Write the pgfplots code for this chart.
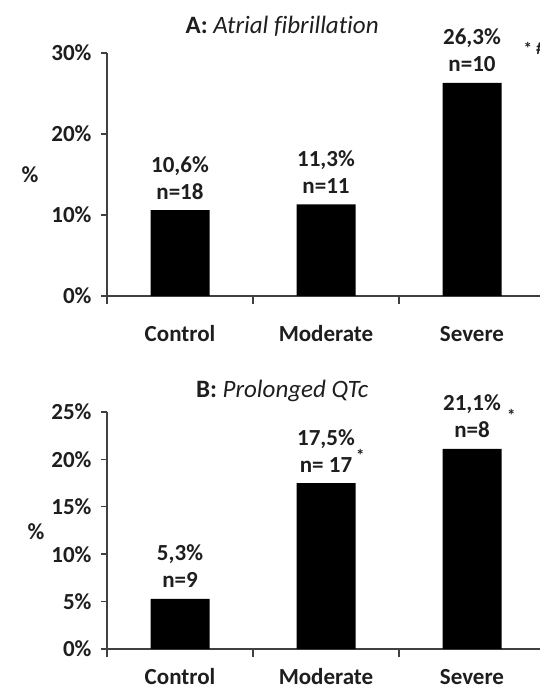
\documentclass[border=0pt]{standalone}
\usepackage{pgfplots}
\pgfplotsset{compat=1.18}
\usepackage{fontspec}
\setmainfont[Ligatures=NoCommon]{Carlito}
\definecolor{axgray}{HTML}{404040}
\definecolor{txt}{HTML}{1E1E1E}
\newcommand{\fs}{\fontsize{23}{27}\selectfont}
\newcommand{\lab}[4]{%
  \node[font=\fs\bfseries, text=txt, anchor=base] at ([yshift=11pt]axis cs:#1,#2) {#4};
  \node[font=\fs\bfseries, text=txt, anchor=base] at ([yshift=38pt]axis cs:#1,#2) {#3};}
\begin{document}
\begin{tikzpicture}
\useasboundingbox (0pt,0pt) rectangle (540pt,685pt);
\clip (0pt,0pt) rectangle (540pt,685pt);
\pgfplotsset{
  panel/.style={
    scale only axis, width=438pt, xmin=-0.5, xmax=2.5, ymin=0,
    anchor=south west,
    axis lines=left,
    axis line style={-, draw=axgray, line width=1.4pt},
    tick style={draw=axgray, line width=1.4pt},
    tick align=outside, tick pos=left,
    xtick={0,1,2}, xticklabels={Control,Moderate,Severe},
    major x tick style={draw=none},
    minor xtick={-0.5,0.5,1.5,2.5}, minor tick length=8pt,
    major tick length=6pt,
    tick label style={font=\fs\bfseries, text=txt},
    xticklabel style={anchor=base},
    yticklabel style={xshift=-6pt},
    ylabel={\%},
    ylabel style={font=\fs\bfseries, text=txt, rotate=-90, anchor=center},
    title style={font=\fontsize{25}{29}\selectfont, text=txt, anchor=center},
    clip=false,
  }}
\begin{axis}[panel, at={(107pt,389pt)}, height=243pt, ymax=30,
  ytick={0,10,20,30}, yticklabels={0\%,10\%,20\%,30\%},
  xticklabel style={yshift=-40pt},
  ylabel style={at={(axis description cs:-0.176,0.5)}},
  title={\textbf{A:} \textit{Atrial fibrillation}},
  title style={at={(axis description cs:0.40,1.087)}}]
\addplot[ybar, bar width=59pt, fill=black, draw=none] coordinates {(0,10.6) (1,11.3) (2,26.3)};
\lab{0}{10.6}{10,6\%}{n=18}
\lab{1}{11.3}{11,3\%}{n=11}
\lab{2}{26.3}{26,3\%}{n=10}
\node[font=\fontsize{17}{19}\selectfont\bfseries, text=txt, anchor=base west] at (axis cs:2.33,29.8) {* \#};
\end{axis}
\begin{axis}[panel, at={(107pt,36pt)}, height=237pt, ymax=25,
  ytick={0,5,10,15,20,25}, yticklabels={0\%,5\%,10\%,15\%,20\%,25\%},
  xticklabel style={yshift=-29pt},
  ylabel style={at={(axis description cs:-0.162,0.494)}},
  title={\textbf{B:} \textit{Prolonged QTc}},
  title style={at={(axis description cs:0.40,1.065)}}]
\addplot[ybar, bar width=59pt, fill=black, draw=none] coordinates {(0,5.3) (1,17.5) (2,21.1)};
\lab{0}{5.3}{5,3\%}{n=9}
\lab{1}{17.5}{17,5\%}{n= 17}
\lab{2}{21.1}{21,1\%}{n=8}
\node[font=\fontsize{17}{19}\selectfont\bfseries, text=txt, anchor=base] at (axis cs:1.235,19.8) {*};
\node[font=\fontsize{17}{19}\selectfont\bfseries, text=txt, anchor=base] at (axis cs:2.27,24.0) {*};
\end{axis}
\end{tikzpicture}
\end{document}
